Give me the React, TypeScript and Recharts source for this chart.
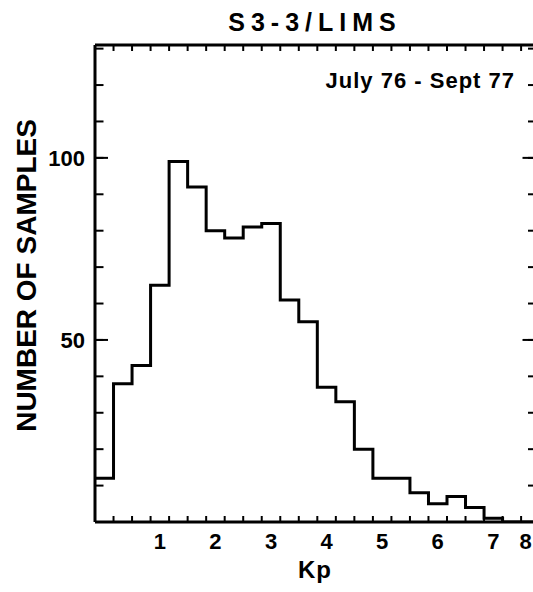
import React from "react";
import { LineChart, Line, XAxis, YAxis, ReferenceLine } from "recharts";

// Kp bin centres (0, 0+, 1-, 1o, 1+, ... 7+)
const kpBins: number[] = [
  0, 1 / 3, 2 / 3, 1, 4 / 3, 5 / 3, 2, 7 / 3, 8 / 3, 3, 10 / 3, 11 / 3,
  4, 13 / 3, 14 / 3, 5, 16 / 3, 17 / 3, 6, 19 / 3, 20 / 3, 7, 22 / 3, 23 / 3,
];
// number of samples per bin
const samples: number[] = [
  12, 38, 43, 65, 99, 92, 80, 78, 81, 82, 61, 55,
  37, 33, 20, 12, 12, 8, 5, 7, 4, 1, 0, 0,
];
const xLabelTicks: number[] = [1, 2, 3, 4, 5, 6, 7, 7.58];
const xLabelText: string[] = ["1", "2", "3", "4", "5", "6", "7", "8"];
const binEdgeTicks: number[] = [
  1 / 6, 1 / 2, 5 / 6, 7 / 6, 3 / 2, 11 / 6, 13 / 6, 5 / 2, 17 / 6, 19 / 6, 7 / 2, 23 / 6,
  25 / 6, 9 / 2, 29 / 6, 31 / 6, 11 / 2, 35 / 6, 37 / 6, 13 / 2, 41 / 6, 43 / 6, 15 / 2,
];
const yMinorTicks: number[] = [10, 20, 30, 40, 50, 60, 70, 80, 90, 100, 110, 120, 130];
const yMajorTicks: number[] = [50, 100];

const HALF = 1 / 6;
const X_DOMAIN: [number, number] = [-1 / 6, 7.75];
const Y_DOMAIN: [number, number] = [0, 131];
const EDGE_TICK = 1.65; // inward tick length on top/bottom frame, in sample units

// step-after points at the left edge of each bin, plus closing point
const stepData = [
  ...kpBins.map((c, i) => ({ x: c - HALF, y: samples[i] })),
  { x: kpBins[kpBins.length - 1] + HALF, y: samples[samples.length - 1] },
];

const FONT = "'Liberation Sans', Arial, sans-serif";
const INK = "#000";
const tickFont = { fontFamily: FONT, fontSize: 22, fontWeight: 700, fill: INK };
const blank = () => "";
const THIN = 0.5;

export default function App() {
  return (
    <div
      style={{
        position: "absolute",
        left: 0,
        top: 0,
        width: 533,
        height: 592,
        overflow: "hidden",
        background: "#fff",
      }}
    >
      <LineChart
        width={560}
        height={592}
        data={stepData}
        margin={{ top: 0, right: 25, bottom: 0, left: 0 }}
      >
        {/* bottom axis with labels */}
        <XAxis
          xAxisId="xb"
          type="number"
          dataKey="x"
          orientation="bottom"
          domain={X_DOMAIN}
          allowDataOverflow
          interval={0}
          ticks={xLabelTicks}
          tickFormatter={(v: number) => xLabelText[xLabelTicks.indexOf(v)] ?? ""}
          tick={tickFont}
          tickLine={false}
          tickSize={6}
          tickMargin={5}
          height={70}
          axisLine={{ stroke: INK, strokeWidth: 3 }}
          label={{
            value: "Kp",
            position: "insideBottom",
            offset: 14,
            style: { fontFamily: FONT, fontSize: 24, fontWeight: 700, fill: INK, letterSpacing: 1 },
          }}
        />
        {/* top frame and title */}
        <XAxis
          xAxisId="xt"
          type="number"
          dataKey="x"
          orientation="top"
          domain={X_DOMAIN}
          allowDataOverflow
          ticks={[]}
          tick={false}
          tickLine={false}
          height={45}
          axisLine={{ stroke: INK, strokeWidth: 3 }}
          label={{
            value: "S3-3/LIMS",
            position: "center",
            style: { fontFamily: FONT, fontSize: 25, fontWeight: 700, fill: INK, letterSpacing: 6 },
          }}
        />

        {/* left axis with labels */}
        <YAxis
          yAxisId="yl"
          type="number"
          orientation="left"
          domain={Y_DOMAIN}
          allowDataOverflow
          ticks={yMajorTicks}
          tick={tickFont}
          tickLine={false}
          tickSize={6}
          tickMargin={4}
          width={95}
          axisLine={{ stroke: INK, strokeWidth: 3 }}
          label={{
            value: "NUMBER OF SAMPLES",
            angle: -90,
            position: "insideLeft",
            offset: 26,
            dy: -8,
            style: { textAnchor: "middle", fontFamily: FONT, fontSize: 28, fontWeight: 700, fill: INK },
          }}
        />
        <YAxis
          yAxisId="ylm"
          type="number"
          orientation="left"
          mirror
          width={THIN}
          domain={Y_DOMAIN}
          allowDataOverflow
          interval={0}
          ticks={yMinorTicks}
          tickFormatter={blank}
          tickSize={8}
          tickLine={{ stroke: INK, strokeWidth: 2 }}
          axisLine={false}
        />
        <YAxis
          yAxisId="ylM"
          type="number"
          orientation="left"
          mirror
          width={THIN}
          domain={Y_DOMAIN}
          allowDataOverflow
          interval={0}
          ticks={yMajorTicks}
          tickFormatter={blank}
          tickSize={13}
          tickLine={{ stroke: INK, strokeWidth: 2 }}
          axisLine={false}
        />
        {/* right frame with inward ticks */}
        <YAxis
          yAxisId="yr"
          type="number"
          orientation="right"
          mirror
          width={THIN}
          domain={Y_DOMAIN}
          allowDataOverflow
          interval={0}
          ticks={yMinorTicks}
          tickFormatter={blank}
          tickSize={7}
          tickLine={{ stroke: INK, strokeWidth: 2 }}
          axisLine={{ stroke: INK, strokeWidth: 3 }}
        />
        <YAxis
          yAxisId="yrM"
          type="number"
          orientation="right"
          mirror
          width={THIN}
          domain={Y_DOMAIN}
          allowDataOverflow
          interval={0}
          ticks={yMajorTicks}
          tickFormatter={blank}
          tickSize={12}
          tickLine={{ stroke: INK, strokeWidth: 2 }}
          axisLine={false}
        />

        {/* inward tick marks at bin edges on bottom and top of the frame */}
        {binEdgeTicks.map((e) => (
          <ReferenceLine
            key={`b${e}`}
            xAxisId="xb"
            yAxisId="yl"
            segment={[
              { x: e, y: Y_DOMAIN[0] },
              { x: e, y: Y_DOMAIN[0] + EDGE_TICK },
            ]}
            stroke={INK}
            strokeWidth={2}
            ifOverflow="visible"
          />
        ))}
        {binEdgeTicks.map((e) => (
          <ReferenceLine
            key={`t${e}`}
            xAxisId="xb"
            yAxisId="yl"
            segment={[
              { x: e, y: Y_DOMAIN[1] },
              { x: e, y: Y_DOMAIN[1] - EDGE_TICK },
            ]}
            stroke={INK}
            strokeWidth={2}
            ifOverflow="visible"
          />
        ))}

        <Line
          xAxisId="xb"
          yAxisId="yl"
          type="stepAfter"
          dataKey="y"
          stroke={INK}
          strokeWidth={3}
          dot={false}
          activeDot={false}
          isAnimationActive={false}
        />

        <text
          x={515}
          y={88}
          textAnchor="end"
          style={{ fontFamily: FONT, fontSize: 22, fontWeight: 700, fill: INK, letterSpacing: 1 }}
        >
          July 76 - Sept 77
        </text>
      </LineChart>
    </div>
  );
}
